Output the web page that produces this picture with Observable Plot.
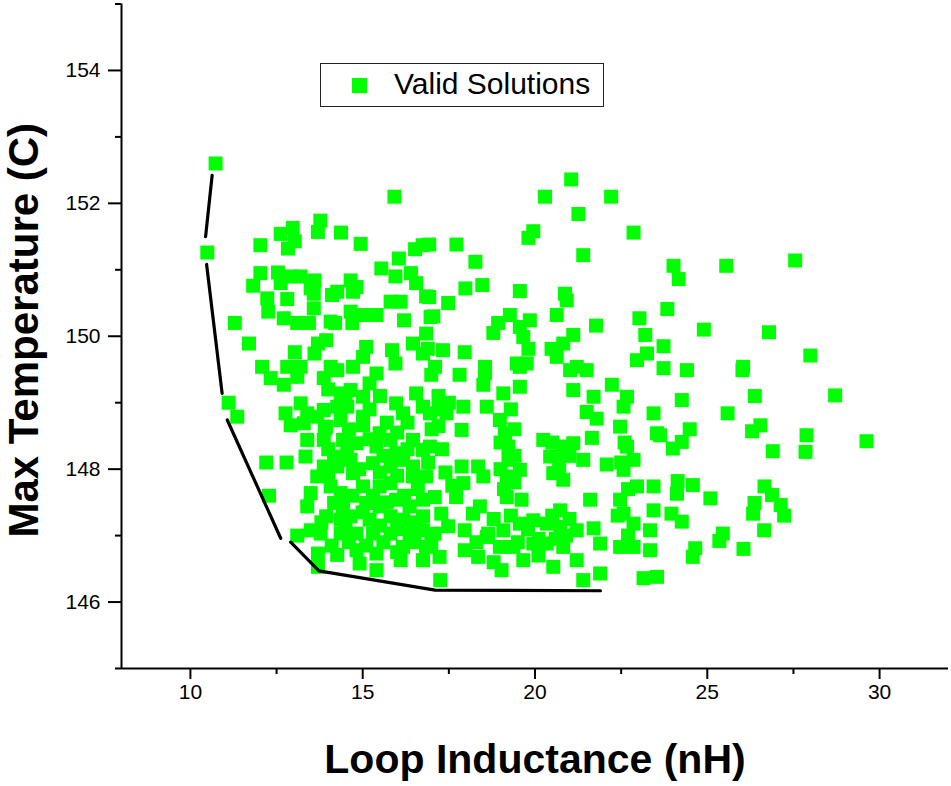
<!DOCTYPE html>
<html>
<head>
<meta charset="utf-8">
<script src="https://cdn.jsdelivr.net/npm/d3@7"></script>
<script src="https://cdn.jsdelivr.net/npm/@observablehq/plot@0.6"></script>
<style>
  html, body { margin: 0; padding: 0; background: #fff; }
  #wrap { position: relative; width: 951px; height: 786px; font-family: "Liberation Sans", Arial, sans-serif; }
  #legend { position: absolute; left: 320px; top: 63px; width: 282px; height: 42px; border: 1.5px solid #222; background: #fff; }
  #legend .sw { position: absolute; left: 31px; top: 14px; width: 15px; height: 15px; background: #00ff00; }
  #legend .lbl { position: absolute; left: 73px; top: 3px; font-size: 30px; color: #000; white-space: nowrap; }
</style>
</head>
<body>
<div id="wrap"></div>
<script>
const xLabel = "Loop Inductance (nH)";
const yLabel = "Max Temperature (C)";
const seriesName = "Valid Solutions";
const xMajorTicks = [10, 15, 20, 25, 30];
const xMinorTicks = [12.5, 17.5, 22.5, 27.5];
const yMajorTicks = [146, 148, 150, 152, 154];
const yMinorTicks = [145, 147, 149, 151, 153, 155];

// valid solutions: inductance (nH)
const inductance = [
10.73,15.92,10.49,12.97,12.62,13.77,13.7,14.37,14.94,12.03,13.03,12.83,16.52,16.74,16.05,15.54,15.95,16.4,16.55,16.84,
12.03,11.82,12.54,12.91,13.2,13.6,13.49,13.58,12.62,12.23,12.81,12.26,12.71,13.1,13.44,13.58,14.11,14.26,14.65,14.82,
14.72,14.07,14.2,14.65,14.7,15.01,15.4,15.81,16.1,16.2,16.97,11.29,11.7,13.03,13.7,13.94,13.6,15.1,15.01,15.85,
15.95,16.46,16.75,12.08,12.81,13.2,14.07,14.72,
11.11,11.36,12.2,12.79,12.28,13.34,12.33,12.71,13.1,13.87,14.26,12.76,12.91,13.2,13.39,13.29,13.68,13.87,14.36,14.65,
14.26,14.55,15.01,15.2,15.4,15.01,14.36,13.94,13.87,13.39,14.43,14.55,14.82,15.01,15.49,15.97,16.17,16.55,16.75,16.46,
15.81,15.4,15.97,16.17,16.75,14.17,13.87,14.26,14.65,14.72,15.3,15.81,16.46,13.68,13.49,13.39,14.07,14.36,14.43,14.17,
15.01,15.1,15.49,15.81,15.97,15.49,16.36,16.75,16.46,13.94,14.36,14.65,15.2,15.81,16.17,16.75,13.1,13.49,13.78,14.36,
14.82,15.3,15.81,16.36,16.75,13.7,13.7,14.26,14.82,14.91,15.4,15.4,16.1,16.17,16.75,16.84,
21.05,20.29,22.21,21.26,19.95,19.81,22.86,21.4,16.93,17.72,18.27,17.98,18.47,19.56,20.87,20.92,16.93,17.48,17.05,20.63,
21.77,23.03,23.2,23.25,22.96,18.93,19.27,18.79,19.85,19.56,19.66,19.81,21.11,20.82,20.48,20.63,16.84,16.89,17.33,17.96,
18.55,19.47,19.76,17.1,21.21,
16.99,17.81,18.55,18.5,19.56,19.56,19.08,21.02,21.11,21.5,21.7,22.23,22.67,21.5,21.79,22.57,22.47,23.44,23.54,16.95,
17.43,17.92,18.6,18.98,17.87,19.13,16.95,19.23,20.24,20.82,21.11,20.44,21.4,21.65,22.08,22.67,22.86,22.57,20.53,20.82,
19.23,19.56,19.18,17.87,18.35,18.5,17.92,16.84,17.09,17.71,19.18,19.61,18.4,18.2,17.28,17.48,17.96,18.64,19.08,19.56,
19.95,20.34,20.73,20.73,21.21,21.6,21.7,22.47,22.57,22.86,23.44,23.34,22.96,23.44,17.09,16.99,17.23,17.96,18.35,18.6,
18.98,19.03,19.66,19.37,19.95,20.34,20.53,20.82,21.21,21.4,21.89,21.89,22.47,22.86,23.34,23.15,17.25,23.54,20.82,
24.02,24.17,25.55,27.55,23.84,24.9,26.79,27.99,23.73,23.73,24.41,26.04,
26.02,24.26,26.38,28.71,25.59,26.54,26.3,23.63,24.49,24.26,24.0,27.88,27.85,26.9,29.62,24.14,24.12,24.58,25.09,23.96,
24.26,26.66,26.88,26.37,26.33,27.13,27.23,26.65,25.45,25.35,24.65,24.58,26.05,
14.0,14.5,15.2,15.5,15.7,16.0,16.3,14.0,14.6,15.2,15.6,16.3,14.9,15.5,16.0,16.6,14.0,14.7,15.3,15.7,
16.2,13.8,14.5,15.0,15.5,16.0,16.5,14.1,14.6,15.1,15.6,16.0,16.5,13.9,14.5,17.0,16.9,17.3,17.2,17.4,
17.6,19.3,19.4,19.0,19.4,19.0,19.4,19.1,18.8,19.3,19.8,20.1,20.5,20.9,18.3,18.8,19.5,20.1,20.6,21.0,
17.2,17.5,17.2,20.5,20.7,21.0,22.6,22.5,22.7,22.4,22.7
];
// valid solutions: max temperature (C)
const temperature = [
152.6,152.1,151.26,151.63,151.54,151.74,151.57,151.56,151.39,151.37,151.43,151.32,151.31,151.37,151.17,151.02,150.9,150.95,150.8,150.6,
150.95,150.76,150.96,150.9,150.9,150.84,150.72,150.64,150.8,150.57,150.56,150.37,150.27,150.2,150.2,150.42,150.62,150.67,150.84,150.74,
150.67,150.22,150.2,150.37,150.2,150.32,150.32,150.52,150.52,150.24,150.29,150.2,149.89,149.76,149.89,149.94,149.74,149.84,149.69,149.79,
149.59,149.89,149.74,149.54,149.54,149.54,149.54,149.54,
149.0,148.79,148.1,148.1,147.6,148.19,149.37,149.27,149.39,149.37,149.49,148.84,148.66,148.99,148.84,148.69,148.79,148.89,149.14,149.19,
148.94,148.94,149.09,149.29,149.44,148.79,148.74,148.64,148.44,148.44,148.44,148.29,148.39,148.66,148.54,148.99,148.84,149.14,148.94,148.44,
148.44,148.34,148.24,148.14,148.29,148.19,148.04,148.04,148.14,147.94,148.09,148.04,148.04,147.89,147.64,147.44,147.74,147.64,147.44,147.49,
147.74,147.49,147.74,147.79,147.54,147.44,147.44,147.54,147.89,147.29,147.24,147.29,147.24,147.29,147.24,147.29,147.0,147.08,147.03,147.03,
147.03,147.03,147.03,147.03,147.08,146.73,146.53,146.71,146.78,146.58,146.48,146.73,146.63,146.83,146.63,146.83,
152.36,152.1,152.1,151.84,151.58,151.48,151.56,151.22,151.38,151.38,151.12,150.72,150.77,150.68,150.64,150.54,150.59,150.5,150.3,150.32,
150.16,150.27,150.02,149.74,149.64,150.2,150.32,150.05,150.24,150.14,149.99,149.81,150.02,149.89,149.81,149.69,150.04,149.81,149.79,149.76,
149.54,149.59,149.59,149.54,149.54,
149.42,149.42,149.44,149.27,149.54,149.24,149.14,149.49,149.19,149.49,149.09,149.27,149.09,148.86,148.76,148.94,148.64,148.84,148.54,148.84,
148.84,148.94,148.94,148.74,148.59,148.54,148.34,148.34,148.44,148.34,148.39,148.19,148.14,148.47,148.07,148.34,148.14,147.99,147.94,147.84,
148.14,147.99,147.89,148.04,148.04,147.89,147.79,147.89,147.58,147.58,147.58,147.54,147.44,147.33,147.33,147.14,147.08,147.03,147.08,147.18,
147.23,147.18,147.38,147.13,147.08,147.54,147.11,147.54,147.33,147.18,147.38,147.08,147.74,147.74,147.03,146.88,146.68,146.78,146.68,146.98,
146.83,146.48,146.63,146.83,146.88,146.88,146.53,146.83,146.63,146.33,146.43,146.88,146.83,146.83,146.78,146.36,146.33,146.38,148.21,
151.06,150.86,151.06,151.14,150.41,150.1,150.06,149.71,149.85,149.52,149.49,149.54,
149.49,149.04,149.1,149.11,148.84,148.66,148.57,148.51,148.6,148.41,148.31,148.51,148.26,148.27,148.42,147.82,147.63,147.76,147.56,147.33,
147.21,147.74,147.61,147.49,147.33,147.46,147.3,147.08,147.03,146.92,146.81,146.68,146.8,
149.2,149.0,148.9,149.1,148.7,148.55,148.7,148.3,148.6,148.45,148.2,148.3,148.0,147.95,147.9,147.7,147.9,147.6,147.6,147.5,
147.6,147.2,147.1,147.35,147.15,147.1,147.2,146.85,146.9,146.85,146.9,146.75,146.9,148.6,148.15,148.6,148.1,148.3,148.9,147.95,
147.75,148.9,148.6,148.4,148.2,148.0,147.8,147.7,147.25,147.3,147.1,146.95,147.3,147.0,146.9,146.6,146.9,146.7,146.95,147.25,
149.1,149.0,148.65,148.4,148.0,148.2,148.4,148.1,147.7,147.3,147.0
];

// Pareto front (drawn as separate segments)
const frontSegment = [1, 1, 2, 2, 3, 3, 4, 4, 4, 4];
const frontInductance = [10.63, 10.44, 10.47, 10.92, 11.07, 12.62, 12.91, 13.73, 17.1, 21.9];
const frontTemperature = [152.42, 151.5, 151.08, 149.14, 148.74, 146.96, 146.9, 146.47, 146.18, 146.17];

const n = Math.min(inductance.length, temperature.length);
const points = d3.range(n).map(i => ({x: inductance[i], y: temperature[i]}));
const front = frontInductance.map((x, i) => ({x, y: frontTemperature[i], s: frontSegment[i]}));

const chart = Plot.plot({
  width: 951,
  height: 786,
  marginLeft: 121,
  marginRight: 3,
  marginTop: 3.5,
  marginBottom: 118,
  style: {fontFamily: '"Liberation Sans", Arial, sans-serif', background: "#fff", color: "#000"},
  x: {domain: [8, 32]},
  y: {domain: [145, 155]},
  marks: [
    Plot.dot(points, {x: "x", y: "y", symbol: "square", r: 7.9, fill: "#00ff00", stroke: "none"}),
    Plot.line(front, {x: "x", y: "y", z: "s", stroke: "#000", strokeWidth: 3.2}),
    Plot.ruleX([8], {stroke: "#000", strokeWidth: 2}),
    Plot.ruleY([145], {stroke: "#000", strokeWidth: 2}),
    Plot.axisY(yMajorTicks, {tickSize: 13, tickPadding: 8, fontSize: 21, strokeWidth: 2, label: null, tickFormat: d => String(d)}),
    Plot.axisY(yMinorTicks, {tickSize: 6, strokeWidth: 2, text: null, label: null}),
    Plot.axisX(xMajorTicks, {tickSize: 11, tickPadding: 5, fontSize: 21, strokeWidth: 2, label: null, tickFormat: d => String(d)}),
    Plot.axisX(xMinorTicks, {tickSize: 6, strokeWidth: 2, text: null, label: null}),
    Plot.text([xLabel], {frameAnchor: "bottom", dy: 104, lineAnchor: "bottom", textAnchor: "middle", fontSize: 41, fontWeight: "bold", fill: "#000"}),
    Plot.text([yLabel], {frameAnchor: "left", dx: -84, dy: -6, rotate: -90, lineAnchor: "bottom", textAnchor: "middle", fontSize: 42, fontWeight: "bold", fill: "#000"})
  ]
});

const wrap = document.getElementById("wrap");
wrap.appendChild(chart);
const legend = document.createElement("div");
legend.id = "legend";
legend.innerHTML = '<div class="sw"></div><div class="lbl"></div>';
legend.querySelector(".lbl").textContent = seriesName;
wrap.appendChild(legend);
</script>
</body>
</html>
